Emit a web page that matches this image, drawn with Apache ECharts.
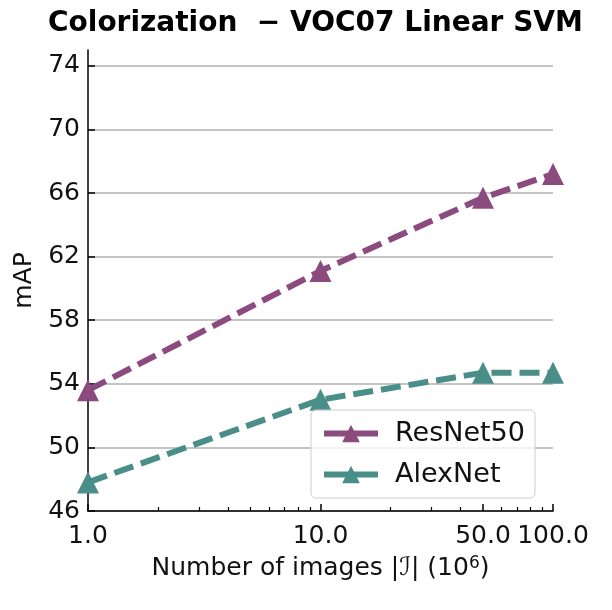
<!DOCTYPE html>
<html>
<head>
	<meta charset="utf-8">
	<title>Colorization VOC07</title>
	<script src="https://cdn.jsdelivr.net/npm/echarts@6/dist/echarts.min.js"></script>
	<style>
		html, body { margin: 0; padding: 0; background: #fff; }
		#main { width: 612px; height: 610px; }
	</style>
</head>
<body>
	<div id="main"></div>
	<script type="text/javascript">
		// data
		var images = [1, 10, 50, 100];
		var resnet50 = [53.6, 61.1, 65.7, 67.2];
		var alexnet = [47.8, 53.0, 54.7, 54.7];
		var xMajorTicks = [1, 10, 50, 100];
		var xMinorTicks = [2, 3, 4, 5, 6, 7, 8, 9, 20, 30, 40, 60, 70, 80, 90];
		var yTicks = [46, 50, 54, 58, 62, 66, 70, 74];

		var font = 'DejaVu Sans';
		var purple = '#8c4b7f';
		var teal = '#4a8e89';

		function pairs(xs, ys) {
			return xs.map(function (x, i) { return [x, ys[i]]; });
		}

		var myChart = echarts.init(document.getElementById('main'));

		var option = {
			backgroundColor: '#fff',
			textStyle: { fontFamily: font },
			title: {
				text: 'Colorization  \u2212 VOC07 Linear SVM',
				left: 43,
				top: 5,
				textStyle: { fontFamily: font, fontSize: 28, fontWeight: 'bold', color: '#000' }
			},
			grid: { left: 88, right: 59, top: 50, bottom: 99 },
			legend: {
				orient: 'vertical',
				left: 311,
				top: 410,
				padding: [10, 10, 10, 10],
				itemGap: 14,
				itemWidth: 54,
				itemHeight: 22,
				backgroundColor: 'rgba(255,255,255,0.8)',
				borderColor: '#cccccc',
				borderWidth: 1,
				borderRadius: 5,
				lineStyle: { type: 'solid', width: 6 },
				textStyle: { fontFamily: font, fontSize: 27, color: '#111', padding: [0, 0, 0, 12] },
				data: ['ResNet50', 'AlexNet']
			},
			xAxis: [{
				type: 'log',
				logBase: 10,
				min: 1,
				max: 100,
				name: 'Number of images |\u2110| (10{sup|6})',
				nameLocation: 'middle',
				nameGap: 44,
				nameTextStyle: {
					fontFamily: font, fontSize: 25, color: '#111',
					rich: { sup: { fontFamily: font, fontSize: 17, color: '#111', verticalAlign: 'top', padding: [0, 0, 10, 0] } }
				},
				axisLine: { lineStyle: { color: '#000', width: 1.5 } },
				axisTick: { inside: true, length: 7, lineStyle: { color: '#000', width: 1.5 }, customValues: xMajorTicks },
				axisLabel: {
					customValues: xMajorTicks,
					margin: 13,
					fontFamily: font, fontSize: 25, color: '#111',
					formatter: function (v) { return Number(v).toFixed(1); }
				},
				splitLine: { show: false },
				minorTick: { show: false }
			}, {
				type: 'log',
				logBase: 10,
				min: 1,
				max: 100,
				position: 'bottom',
				axisLine: { show: false },
				axisTick: { inside: true, length: 4, lineStyle: { color: '#000', width: 1.2 }, customValues: xMinorTicks },
				axisLabel: { show: false },
				splitLine: { show: false }
			}],
			yAxis: {
				type: 'value',
				min: 46,
				max: 75,
				interval: 4,
				name: 'mAP',
				nameLocation: 'middle',
				nameGap: 48,
				nameTextStyle: { fontFamily: font, fontSize: 25, color: '#111' },
				axisLine: { show: true, lineStyle: { color: '#000', width: 1.5 } },
				axisTick: { show: true, inside: true, length: 7, lineStyle: { color: '#000', width: 1.5 }, customValues: yTicks },
				axisLabel: { customValues: yTicks, margin: 8, fontFamily: font, fontSize: 25, color: '#111' },
				splitLine: { show: true, lineStyle: { color: '#b0b0b0', width: 1.5 } }
			},
			series: [{
				name: 'ResNet50',
				type: 'line',
				data: pairs(images, resnet50),
				symbol: 'triangle',
				symbolSize: 22,
				color: purple,
				lineStyle: { width: 6, type: [20, 8] },
				z: 3
			}, {
				name: 'AlexNet',
				type: 'line',
				data: pairs(images, alexnet),
				symbol: 'triangle',
				symbolSize: 22,
				color: teal,
				lineStyle: { width: 6, type: [20, 8] },
				z: 2
			}]
		};

		myChart.setOption(option);
	</script>
</body>
</html>
